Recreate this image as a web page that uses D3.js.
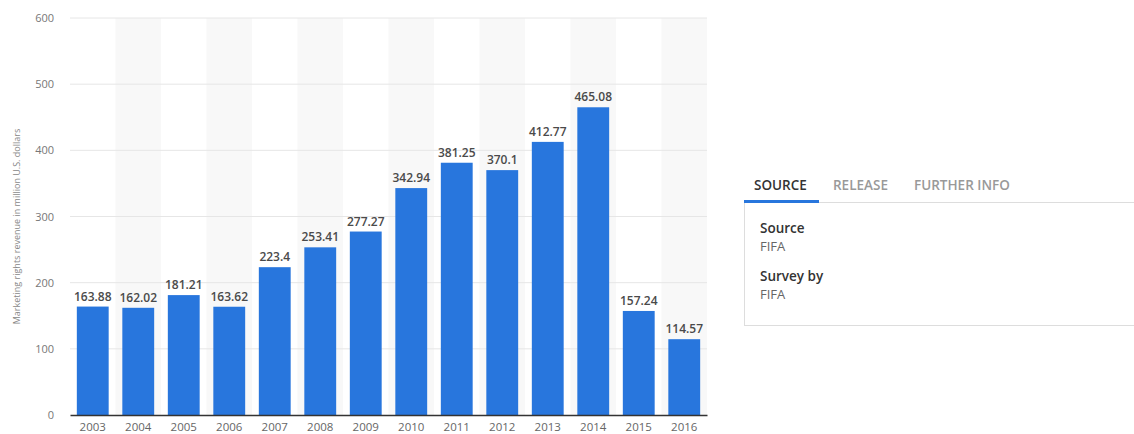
<!DOCTYPE html>
<html><head><meta charset="utf-8">
<script src="https://cdn.jsdelivr.net/npm/d3@7"></script>
<style>body{margin:0;background:#fff;}svg{display:block;font-family:"Open Sans",sans-serif;}</style>
</head><body><svg id="c" width="1134" height="434"></svg>
<script>
const years = ["2003","2004","2005","2006","2007","2008","2009","2010","2011","2012","2013","2014","2015","2016"];
const revenue = [163.88,162.02,181.21,163.62,223.4,253.41,277.27,342.94,381.25,370.1,412.77,465.08,157.24,114.57];
const labels = ["163.88","162.02","181.21","163.62","223.4","253.41","277.27","342.94","381.25","370.1","412.77","465.08","157.24","114.57"];
const yTicks = [0,100,200,300,400,500,600];
const yTitle = "Marketing rights revenue in million U.S. dollars";

const svg = d3.select("#c");
const L=70,R=707,T=18,B=415;
const x = d3.scaleBand().domain(years).range([L,R]).paddingInner(0.3).paddingOuter(0.15);
const xb = d3.scaleBand().domain(years).range([L,R]);
const y = d3.scaleLinear().domain([0,600]).range([B,T]);

// alternating stripes
svg.append("g").selectAll("rect").data(years.filter((d,i)=>i%2===1)).join("rect")
  .attr("x",d=>xb(d)).attr("width",xb.bandwidth()).attr("y",T).attr("height",B-T).attr("fill","#f8f8f8");

// grid
svg.append("g").selectAll("line").data(yTicks.filter(d=>d>0)).join("line")
  .attr("x1",L).attr("x2",R).attr("y1",d=>y(d)).attr("y2",d=>y(d)).attr("stroke","#e6e6e6").attr("stroke-width",1);

// y axis labels
const ya = svg.append("g").attr("transform",`translate(${L-16},0)`).call(d3.axisLeft(y).tickValues(yTicks).tickSize(0).tickPadding(0));
ya.select(".domain").remove();
ya.selectAll("text").attr("font-family","Open Sans").attr("font-size",11).attr("fill","#777");

svg.append("text").attr("transform",`translate(20,${(T+B)/2+10}) rotate(-90)`).attr("text-anchor","middle")
  .attr("font-size",9).attr("fill","#888").text(yTitle);

// bars
svg.append("g").selectAll("rect").data(years).join("rect")
  .attr("x",d=>x(d)).attr("width",x.bandwidth())
  .attr("y",(d,i)=>y(revenue[i])).attr("height",(d,i)=>B-y(revenue[i])).attr("fill","#2876dd");

svg.append("g").selectAll("text").data(years).join("text")
  .attr("x",d=>x(d)+x.bandwidth()/2).attr("y",(d,i)=>y(revenue[i])-6)
  .attr("text-anchor","middle").attr("font-size",12).attr("font-weight",600).attr("fill","#4a4a4a")
  .text((d,i)=>labels[i]);

// x axis
const xa = svg.append("g").attr("transform",`translate(0,${B})`).call(d3.axisBottom(xb).tickSize(0).tickPadding(8));
xa.select(".domain").attr("stroke","#333").attr("stroke-width",1.5);
xa.selectAll("text").attr("font-family","Open Sans").attr("font-size",11.5).attr("fill","#666");

// right panel
const p = svg.append("g");
const tabs = [["SOURCE",754,"#333"],["RELEASE",833,"#999"],["FURTHER INFO",914,"#999"]];
p.selectAll("text.tab").data(tabs).join("text").attr("class","tab")
  .attr("x",d=>d[1]).attr("y",190).attr("font-size",13.5).attr("font-weight",600).attr("fill",d=>d[2]).text(d=>d[0]);
p.append("line").attr("x1",744).attr("x2",1134).attr("y1",202.5).attr("y2",202.5).attr("stroke","#ddd");
p.append("rect").attr("x",744).attr("y",200).attr("width",75).attr("height",3).attr("fill","#2876dd");
p.append("line").attr("x1",744.5).attr("x2",744.5).attr("y1",203).attr("y2",325).attr("stroke","#ddd");
p.append("line").attr("x1",744).attr("x2",1134).attr("y1",325.5).attr("y2",325.5).attr("stroke","#ddd");
const info=[["Source",233,true],["FIFA",251,false],["Survey by",281,true],["FIFA",299,false]];
p.selectAll("text.info").data(info).join("text").attr("class","info")
  .attr("x",760).attr("y",d=>d[1]).attr("font-size",d=>d[2]?13.5:13)
  .attr("font-weight",d=>d[2]?600:"normal").attr("fill",d=>d[2]?"#333":"#666").text(d=>d[0]);
</script></body></html>
